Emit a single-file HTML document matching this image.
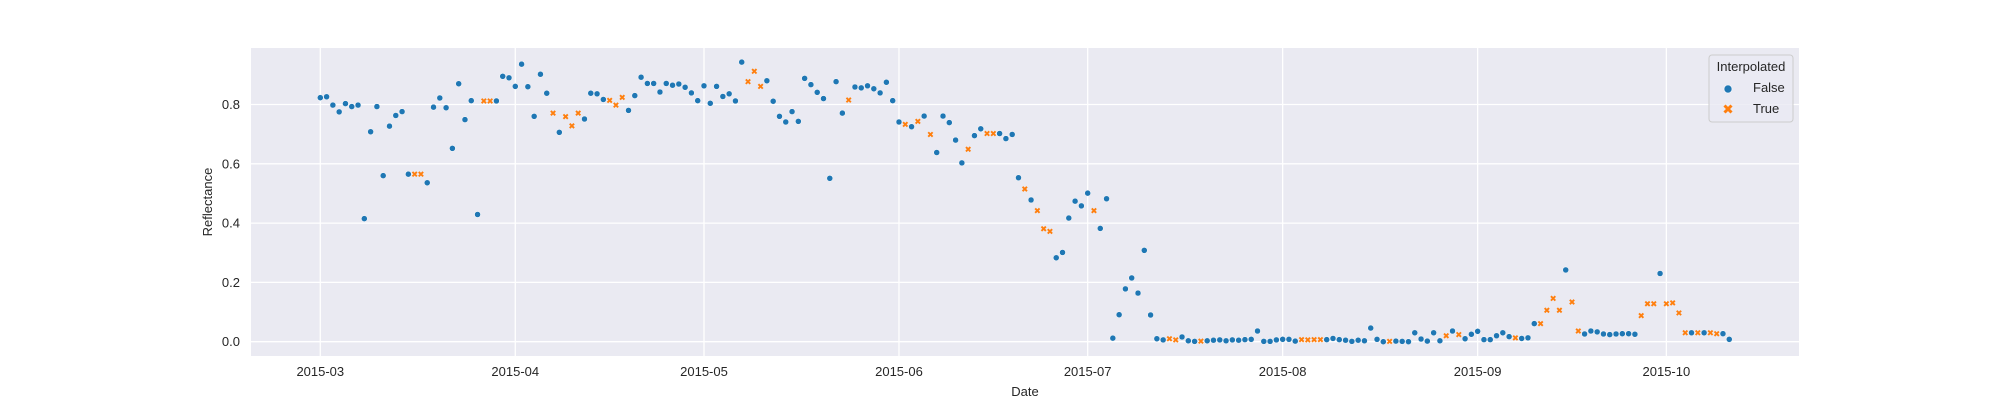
<!DOCTYPE html>
<html><head><meta charset="utf-8">
<style>
html,body{margin:0;padding:0;background:#fff;}
svg{display:block;font-family:"Liberation Sans",Arial,sans-serif;}
</style></head>
<body>
<svg id="chart" width="2000" height="400" viewBox="0 0 2000 400" xmlns="http://www.w3.org/2000/svg">
  <rect x="251" y="48" width="1548" height="308" fill="#eaeaf2"/>
  <g id="grid"></g>
  <g id="xticks"></g>
  <g id="yticks"></g>
  <g id="points"></g>
  <text x="1025" y="396" font-size="13" fill="#262626" text-anchor="middle">Date</text>
  <text transform="translate(212,202) rotate(-90)" font-size="13" fill="#262626" text-anchor="middle">Reflectance</text>
  <g>
    <rect x="1709" y="55" width="84" height="67" rx="3" fill="#eaeaf2" fill-opacity="0.8" stroke="#cccccc" stroke-width="1"/>
    <text x="1751" y="71" font-size="13" fill="#262626" text-anchor="middle">Interpolated</text>
    <circle cx="1728" cy="89" r="4" fill="#1f77b4" stroke="#fff" stroke-width="0.6"/>
    <text x="1753" y="92" font-size="13" fill="#262626">False</text>
    <path d="M1724.5,105.5 L1731.5,112.5 M1731.5,105.5 L1724.5,112.5" stroke="#ff7f0e" stroke-width="3"/>
    <text x="1753" y="113" font-size="13" fill="#262626">True</text>
  </g>
</svg>
<script>
// Data: daily observations starting 2015-03-01 (index = days since start)
var startDate = "2015-03-01";
var reflectance = [
.823,.826,.798,.775,.803,.793,.798,.415,.708,.793,.560,.727,.763,.776,.565,.565,.565,.536,.791,.822,
.789,.652,.870,.749,.813,.429,.812,.812,.812,.895,.890,.861,.936,.860,.760,.902,.838,.771,.706,.759,
.728,.771,.751,.838,.836,.817,.814,.798,.824,.780,.830,.892,.871,.871,.842,.871,.865,.869,.858,.839,
.813,.863,.804,.861,.827,.836,.812,.943,.877,.912,.861,.880,.811,.760,.741,.776,.743,.888,.867,.841,
.820,.551,.877,.771,.815,.859,.856,.863,.853,.839,.875,.813,.741,.733,.725,.743,.761,.699,.638,.761,
.739,.680,.603,.649,.695,.718,.702,.702,.702,.685,.699,.553,.515,.478,.442,.381,.372,.283,.301,.417,
.474,.458,.501,.442,.382,.482,.012,.091,.178,.215,.164,.308,.090,.010,.006,.010,.006,.016,.003,.001,
.002,.003,.005,.006,.003,.006,.005,.007,.008,.036,.001,.001,.006,.008,.008,.002,.007,.006,.007,.007,
.007,.011,.007,.005,.001,.005,.003,.046,.008,.000,.001,.002,.001,.000,.030,.009,.002,.030,.003,.020,
.036,.024,.010,.025,.035,.007,.007,.020,.030,.017,.013,.011,.013,.061,.061,.106,.146,.106,.242,.134,
.036,.026,.036,.033,.026,.024,.026,.027,.027,.025,.088,.128,.128,.230,.128,.131,.097,.030,.030,.030,
.030,.030,.027,.027,.008
];
var interpolatedDays = [15,16,26,27,37,39,40,41,46,47,48,68,69,70,84,93,95,97,103,106,107,112,114,115,116,123,135,136,140,156,157,158,159,170,179,181,190,194,195,196,197,199,200,210,211,212,214,215,216,217,219,221,222];
var xTickDays = [0,31,61,92,122,153,184,214];
var xTickLabels = ["2015-03","2015-04","2015-05","2015-06","2015-07","2015-08","2015-09","2015-10"];
var yTickValues = [0,0.2,0.4,0.6,0.8];
var yTickLabels = ["0.0","0.2","0.4","0.6","0.8"];

var NS = "http://www.w3.org/2000/svg";
function xScale(day){ return 320.3 + day * 6.29; }
function yScale(v){ return 341.7 - v * 296.5; }
function mk(tag, attrs, parent){
  var e = document.createElementNS(NS, tag);
  for (var k in attrs) e.setAttribute(k, attrs[k]);
  parent.appendChild(e);
  return e;
}
var grid = document.getElementById('grid');
var xt = document.getElementById('xticks');
var yt = document.getElementById('yticks');
var pts = document.getElementById('points');

xTickDays.forEach(function(d, i){
  var x = xScale(d);
  var l = mk('line', {x1:x, x2:x, y1:48, y2:356, stroke:'#ffffff', 'stroke-width':1.3}, grid);
  
  
  var t = mk('text', {x:x, y:376, 'font-size':13, fill:'#262626', 'text-anchor':'middle'}, xt);
  t.textContent = xTickLabels[i];
  
  
});
yTickValues.forEach(function(v, i){
  var y = yScale(v);
  var l = mk('line', {x1:251, x2:1799, y1:y, y2:y, stroke:'#ffffff', 'stroke-width':1.3}, grid);
  
  
  var t = mk('text', {x:240, y:y+4.5, 'font-size':13, fill:'#262626', 'text-anchor':'end'}, yt);
  t.textContent = yTickLabels[i];
  
  
});
reflectance.forEach(function(v, d){
  var x = xScale(d), y = yScale(v);
  if (interpolatedDays.indexOf(d) >= 0) {
    var p = mk('path', {d:'M'+(x-2.2)+','+(y-2.2)+' L'+(x+2.2)+','+(y+2.2)+' M'+(x+2.2)+','+(y-2.2)+' L'+(x-2.2)+','+(y+2.2), stroke:'#ff7f0e', 'stroke-width':1.9}, pts);
    
    
  } else {
    var c = mk('circle', {cx:x, cy:y, r:3, fill:'#1f77b4', stroke:'#ffffff', 'stroke-width':0.5}, pts);
    
    
  }
});
</script>
</body></html>
